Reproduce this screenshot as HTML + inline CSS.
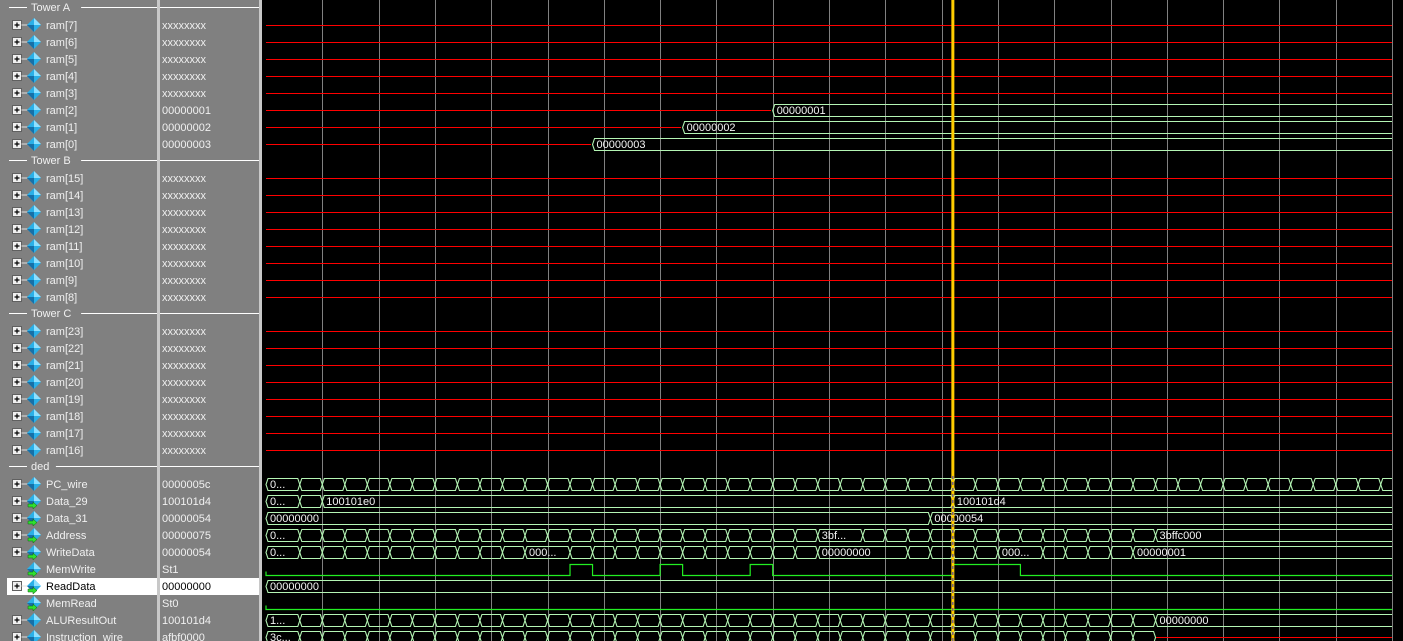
<!DOCTYPE html>
<html><head><meta charset="utf-8"><style>
html,body{margin:0;padding:0;background:#000;overflow:hidden}
svg{display:block}
text{font-family:"Liberation Sans",sans-serif;font-size:11px}
</style></head><body>
<svg id="wv" width="1403" height="641" viewBox="0 0 1403 641" xmlns="http://www.w3.org/2000/svg">
<rect x="0" y="0" width="157" height="641" fill="#808080"/>
<rect x="157" y="0" width="3" height="641" fill="#c8c8c8"/>
<rect x="160" y="0" width="99" height="641" fill="#808080"/>
<rect x="259" y="0" width="3" height="641" fill="#c8c8c8"/>
<rect x="262" y="0" width="1141" height="641" fill="#000"/>
<g id="grid"></g><g id="rows"></g><g id="waves"></g><g id="cur"></g>
</svg>
<script>
// ---- data ----
const rowNames = ["Tower A","ram[7]","ram[6]","ram[5]","ram[4]","ram[3]","ram[2]","ram[1]","ram[0]",
"Tower B","ram[15]","ram[14]","ram[13]","ram[12]","ram[11]","ram[10]","ram[9]","ram[8]",
"Tower C","ram[23]","ram[22]","ram[21]","ram[20]","ram[19]","ram[18]","ram[17]","ram[16]",
"ded","PC_wire","Data_29","Data_31","Address","WriteData","MemWrite","ReadData","MemRead","ALUResultOut","Instruction_wire"];
const rowValues = ["","xxxxxxxx","xxxxxxxx","xxxxxxxx","xxxxxxxx","xxxxxxxx","00000001","00000002","00000003",
"","xxxxxxxx","xxxxxxxx","xxxxxxxx","xxxxxxxx","xxxxxxxx","xxxxxxxx","xxxxxxxx","xxxxxxxx",
"","xxxxxxxx","xxxxxxxx","xxxxxxxx","xxxxxxxx","xxxxxxxx","xxxxxxxx","xxxxxxxx","xxxxxxxx",
"","0000005c","100101d4","00000054","00000075","00000054","St1","00000000","St0","100101d4","afbf0000"];
const portRows = ["Data_29","Data_31","Address","WriteData","MemWrite","ReadData","MemRead"];
const ram2Time = [90], ram2Labels = ["xxxxxxxx","00000001"];
const ram1Time = [74], ram1Labels = ["xxxxxxxx","00000002"];
const ram0Time = [58], ram0Labels = ["xxxxxxxx","00000003"];
const pcTimes = [6,10,14,18,22,26,30,34,38,42,46,50,54,58,62,66,70,74,78,82,86,90,94,98,102,106,110,114,118,122,126,130,134,138,142,146,150,154,158,162,166,170,174,178,182,186,190,194,198];
const pcLabels = ["0"];
const d29Times = [6,10,122], d29Labels = ["0","00000004","100101e0","100101d4"];
const d31Times = [118], d31Labels = ["00000000","00000054"];
const addrTimes = [6,10,14,18,22,26,30,34,38,42,46,50,54,58,62,66,70,74,78,82,86,90,94,98,106,110,114,118,122,126,130,134,138,142,146,150,154,158];
const addrLabels = ["0"]; addrLabels[24]="3bffc000"; addrLabels[38]="3bffc000";
const wdTimes = [6,10,14,18,22,26,30,34,38,42,46,54,58,62,66,70,74,78,82,86,90,94,98,114,118,122,126,130,138,142,146,150,154];
const wdLabels = ["0"]; wdLabels[11]="00000054"; wdLabels[23]="00000000"; wdLabels[28]="00000054"; wdLabels[33]="00000001";
const memWriteHigh = [[54,58],[70,74],[86,90],[122,134]];
const readTimes = [], readLabels = ["00000000"];
const aluTimes = [6,10,14,18,22,26,30,34,38,42,46,50,54,58,62,66,70,74,78,82,86,90,94,98,102,106,110,114,118,122,126,130,134,138,142,146,150,154,158];
const aluLabels = ["1"]; aluLabels[39]="00000000";
const instTimes = [6,10,14,18,22,26,30,34,38,42,46,50,54,58,62,66,70,74,78,82,86,90,94,98,102,106,110,114,118,122,126,130,134,138,142,146,150,154,158];
const instLabels = ["3c"];
const cursorTime = 122;
const gridTimes = [10,20,30,40,50,60,70,80,90,100,110,120,130,140,150,160,170,180,190,200];

// ---- axes ----
const T0=266, PX=5.63, RH=17, XEND=1392;
const xs = t => T0 + t*PX;
const NS="http://www.w3.org/2000/svg";
function mk(tag, attrs, parent){const e=document.createElementNS(NS,tag);for(const k in attrs)e.setAttribute(k,attrs[k]);parent.appendChild(e);return e;}
const G=document.getElementById('grid'), R=document.getElementById('rows'), W=document.getElementById('waves'), C=document.getElementById('cur');

gridTimes.forEach(t=>{
  const x=Math.round(xs(t));
  const l=mk('rect',{x:x,y:0,width:1,height:641,fill:'#808080'},G);
  
  
});

function redLine(x1,x2,row,parent){
  const y=row*RH+8;
  return mk('rect',{x:Math.round(x1),y:y,width:Math.max(0,Math.round(x2)-Math.round(x1)),height:1,fill:'#ff0000'},parent);
}

// rows
rowNames.forEach((n,i)=>{
  const top=i*RH, cy=top+8;
  const isHdr = rowValues[i]==="" ;
  if(isHdr){
    const g=mk('g',{},R);
    
    
    const tw = n.length*6.3;
    mk('line',{x1:9,x2:27,y1:top+7.5,y2:top+7.5,stroke:'#fff'},g);
    mk('line',{x1:33+tw+4,x2:157,y1:top+7.5,y2:top+7.5,stroke:'#fff'},g);
    mk('line',{x1:160,x2:259,y1:top+7.5,y2:top+7.5,stroke:'#fff'},g);
    const t=mk('text',{x:31,y:top+11,fill:'#f0f0f0'},g); t.textContent=n;
    return;
  }
  const g=mk('g',{},R);
  
  
  const sel = n==="ReadData";
  if(sel){
    mk('rect',{x:7,y:top,width:150,height:RH,fill:'#fff'},g);
    mk('rect',{x:160,y:top,width:99,height:RH,fill:'#fff'},g);
  }
  const scalar = n==="MemWrite"||n==="MemRead";
  if(!scalar){
    const b=mk('rect',{x:12.5,y:cy-4.5,width:9,height:9,fill:'#f0f0f0',stroke:'#606060'},g);
    
    
    mk('path',{d:`M14.5 ${cy}h5M17 ${cy-2.5}v5`,stroke:'#000','stroke-width':1.2},g);
    mk('line',{x1:21.5,x2:28,y1:cy,y2:cy,stroke:'#e0e0e0'},g);
  }
  mk('path',{d:`M34 ${cy-7}L41 ${cy}L34 ${cy+7}L27 ${cy}Z`,fill:'#2ab0e8'},g);
  mk('path',{d:`M34 ${cy-7}L41 ${cy}L34 ${cy}Z`,fill:'#8fe0ff'},g);
  mk('path',{d:`M27 ${cy}L34 ${cy+7}L34 ${cy}Z`,fill:'#1670a8'},g);
  if(portRows.includes(n)){
    mk('path',{d:`M28 ${cy+3}h5v-2l4 3.5l-4 3.5v-2h-5Z`,fill:'#30e030',stroke:'#106010','stroke-width':0.5},g);
  }
  const t=mk('text',{x:46,y:top+12,fill:sel?'#000':'#f0f0f0'},g); t.textContent=n;
  const v=mk('text',{x:162,y:top+12,fill:sel?'#000':'#f0f0f0'},g); v.textContent=rowValues[i];
});

function fitLabel(lbl,w){
  if(!lbl) return "";
  if(w>=58) return lbl;
  if(w<30) return "";
  if(lbl.length<=2) return lbl+"...";
  const n=Math.floor((w-20)/6.5);
  if(n<1) return "";
  return lbl.slice(0,n)+"...";
}
function drawBus(row, times, labels, xStartRed, xAfter){
  const top=row*RH, yt=top+2.5, yb=top+14.5, ym=top+8.5;
  const bounds=[0].concat(times);
  const g=mk('g',{},W);
  
  
  const endT = xAfter!=null ? xAfter : (XEND-T0)/PX;
  for(let i=0;i<bounds.length;i++){
    const ta=bounds[i], tb = i+1<bounds.length?bounds[i+1]:endT;
    const xa=xs(ta), xb=Math.min(xs(tb),XEND);
    if(xStartRed && i===0){
      redLine(xa,xb-2,row,g);
      continue;
    }
    const lastFlat = (i+1>=bounds.length && xAfter==null);
    const d = `M${xb-(lastFlat?0:2)} ${yt}H${xa+2}L${xa} ${ym}L${xa+2} ${yb}H${xb-(lastFlat?0:2)}` + (lastFlat?'':`L${xb} ${ym}Z`);
    mk('path',{d:d,fill:'none',stroke:'#b4f5b4','stroke-width':1.1},g);
    const s=fitLabel(labels[i], xb-xa);
    if(s){const t=mk('text',{x:xa+4,y:top+12,fill:'#f4f4f4'},g);t.textContent=s;}
  }
  if(xAfter!=null){
    redLine(xs(xAfter),XEND,row,g);
  }
}
function drawRed(row){
  const l=redLine(T0,XEND,row,W);
  
  
}
function drawBit(row, highs, tick){
  const top=row*RH, yh=top+3.5, yl=top+14.5;
  let d=`M${T0} ${tick?yl-4:yl}L${T0} ${yl}`;
  highs.forEach(h=>{
    d+=`H${xs(h[0])}V${yh}H${xs(h[1])}V${yl}`;
  });
  d+=`H${XEND}`;
  const p=mk('path',{d:d,fill:'none',stroke:'#22ee22','stroke-width':1.2},W);
  
  
}

rowNames.forEach((n,i)=>{
  if(rowValues[i]==="xxxxxxxx") drawRed(i);
});
drawBus(6, ram2Time, ram2Labels, true, null);
drawBus(7, ram1Time, ram1Labels, true, null);
drawBus(8, ram0Time, ram0Labels, true, null);
drawBus(28, pcTimes, pcLabels, false, null);
drawBus(29, d29Times, d29Labels, false, null);
drawBus(30, d31Times, d31Labels, false, null);
drawBus(31, addrTimes, addrLabels, false, null);
drawBus(32, wdTimes, wdLabels, false, null);
drawBit(33, memWriteHigh, true);
drawBus(34, readTimes, readLabels, false, null);
drawBit(35, [], true);
drawBus(36, aluTimes, aluLabels, false, null);
drawBus(37, instTimes.slice(0,-1), instLabels, false, instTimes[instTimes.length-1]);

// cursor
const cx=xs(cursorTime);
const cr=mk('rect',{x:cx-1.5,y:0,width:3,height:641,fill:'#ffcc00'},C);


mk('line',{x1:cx,x2:cx,y1:476,y2:641,stroke:'#3030c0','stroke-width':1,'stroke-dasharray':'3,3'},C);
</script>
</body></html>
